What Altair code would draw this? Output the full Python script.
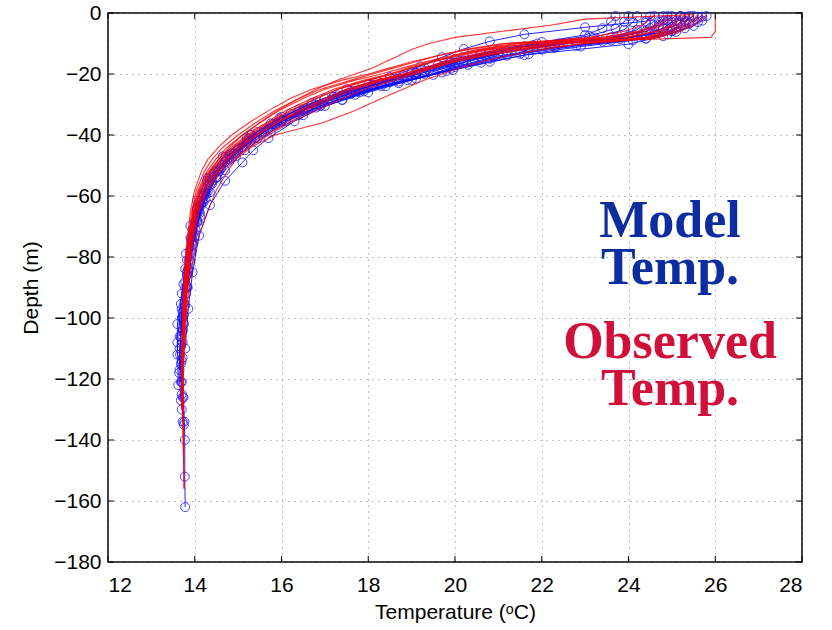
import altair as alt
import pandas as pd

# ---------------- data ----------------
x_ticks = [12, 14, 16, 18, 20, 22, 24, 26, 28]
y_ticks = [-180, -160, -140, -120, -100, -80, -60, -40, -20, 0]

# observed profiles (red): shared depth levels, one temperature list per cast
obs_depth = [-0.5, -2, -4, -6, -8, -9, -10, -12, -14, -16, -18, -20, -22, -25, -28,
             -32, -36, -40, -44, -48, -52, -58, -65, -75, -85, -100, -115, -130, -145, -156]
obs_temps = [
    [26.0, 26.0, 26.0, 26.0, 25.9, 23.6, 22.4, 21.3, 20.5, 19.9, 19.4, 18.9, 18.3, 17.6, 17.1,
     16.5, 15.9, 15.45, 15.05, 14.7, 14.45, 14.2, 14.02, 13.9, 13.82, 13.76, 13.73],
    [25.5, 23.0, 22.2, 21.1, 20.0, 19.7, 19.4, 19.0, 18.7, 18.4, 18.1, 17.7, 17.3, 16.8, 16.4,
     15.9, 15.5, 15.1, 14.8, 14.55, 14.35, 14.15, 14.0, 13.9, 13.82, 13.76, 13.72, 13.72, 13.74, 13.75],
    [25.2, 25.1, 25.0, 24.8, 24.4, 23.8, 23.0, 22.0, 21.2, 20.6, 20.1, 19.7, 19.3, 18.8, 18.3,
     17.7, 16.95, 15.85, 15.3, 14.95, 14.75, 14.5, 14.3, 14.05, 13.9, 13.8, 13.74],
    [25.0, 24.9, 24.7, 24.3, 23.5, 22.4, 21.2, 20.3, 19.6, 19.0, 18.5, 18.0, 17.4, 16.7, 16.2,
     15.7, 15.25, 14.85, 14.55, 14.3, 14.15, 14.0, 13.9, 13.82, 13.76, 13.72, 13.70, 13.70],
    [25.6, 25.5, 25.3, 25.0, 24.5, 23.6, 22.3, 21.1, 20.4, 19.8, 19.3, 18.8, 18.2, 17.5, 17.0,
     16.4, 15.9, 15.4, 15.0, 14.7, 14.45, 14.2, 14.02, 13.9, 13.8, 13.74, 13.71, 13.72, 13.74, 13.76],
    [25.3, 25.2, 25.0, 24.6, 23.9, 22.9, 21.7, 20.7, 20.0, 19.4, 18.9, 18.5, 17.9, 17.2, 16.7,
     16.1, 15.65, 15.2, 14.85, 14.55, 14.32, 14.1, 13.97, 13.86, 13.79, 13.74, 13.71],
    [25.8, 25.7, 25.5, 25.2, 24.7, 24.0, 23.0, 21.6, 20.7, 20.0, 19.5, 19.0, 18.4, 17.7, 17.2,
     16.6, 16.1, 15.6, 15.15, 14.8, 14.55, 14.28, 14.08, 13.95, 13.85, 13.77, 13.73, 13.74],
    [24.9, 24.8, 24.6, 24.2, 23.4, 22.5, 21.4, 20.5, 19.9, 19.3, 18.8, 18.3, 17.7, 17.0, 16.5,
     15.95, 15.5, 15.1, 14.75, 14.48, 14.28, 14.08, 13.95, 13.85, 13.78, 13.73],
    [25.5, 25.4, 25.2, 24.9, 24.4, 23.4, 22.1, 21.0, 20.3, 19.7, 19.3, 18.8, 18.2, 17.5, 17.0,
     16.4, 15.85, 15.45, 15.05, 14.75, 14.5, 14.22, 14.05, 13.93, 13.84, 13.77, 13.73, 13.73],
    [25.1, 25.0, 24.8, 24.4, 23.7, 22.6, 21.5, 20.6, 20.0, 19.5, 19.0, 18.5, 18.0, 17.3, 16.8,
     16.2, 15.7, 15.25, 14.9, 14.6, 14.35, 14.12, 13.98, 13.88, 13.8, 13.74, 13.71, 13.72],
    [25.4, 25.3, 25.1, 24.7, 24.0, 23.0, 21.8, 20.8, 20.1, 19.5, 19.0, 18.6, 18.0, 17.3, 16.8,
     16.25, 15.75, 15.3, 14.92, 14.62, 14.38, 14.14, 13.99, 13.89, 13.81, 13.75, 13.72, 13.73, 13.75],
    [25.7, 25.6, 25.4, 25.1, 24.6, 23.8, 22.6, 21.4, 20.6, 20.0, 19.5, 19.1, 18.6, 17.9, 17.4,
     16.8, 16.2, 15.7, 15.25, 14.9, 14.6, 14.3, 14.1, 13.96, 13.86, 13.78, 13.74],
    [24.6, 24.5, 24.3, 23.9, 23.1, 22.2, 21.1, 20.2, 19.6, 19.1, 18.6, 18.1, 17.6, 16.9, 16.4,
     15.85, 15.4, 15.0, 14.65, 14.4, 14.22, 14.04, 13.93, 13.84, 13.77, 13.72, 13.7, 13.71],
]

# model profiles (blue): each station has its own model levels
mod_depths = [
    [-1.2, -3.5, -6, -8.5, -11, -14, -17, -20.5, -24.5, -29, -34, -40, -47, -55, -64, -74, -86, -99, -113, -126, -134, -140, -152, -162],
    [-1, -3, -5.5, -8, -10.5, -13, -16, -19.5, -23.5, -28, -33, -39, -46, -54, -63, -73, -84, -96, -108, -121, -135],
    [-1, -3, -5, -7.5, -10, -12.5, -15.5, -19, -23, -27, -32, -38, -44, -51, -59, -68, -78, -90, -102, -114, -126],
    [-1, -2.8, -5, -7.2, -9.5, -12, -15, -18, -21.5, -25.5, -30, -35, -41, -48, -56, -65, -75, -86, -98, -110, -117],
    [-1, -2.7, -4.7, -7, -9.3, -11.8, -14.5, -17.5, -21, -25, -29.5, -34.5, -40, -46.5, -54, -62, -71, -81, -92, -102, -112],
    [-1, -2.6, -4.5, -6.7, -9, -11.4, -14, -17, -20.3, -24, -28.5, -33.5, -39, -45, -52, -60, -69, -78, -88, -97, -106],
    [-1, -2.5, -4.3, -6.4, -8.6, -11, -13.5, -16.3, -19.5, -23, -27, -31.5, -36.5, -42, -48, -55, -63, -72, -81, -90, -100],
    [-1.2, -3, -5, -7, -9, -11, -13.5, -16, -19, -22.5, -26.5, -31, -36, -41.5, -47.5, -54, -61, -68.5, -76, -84, -92],
    [-1, -2.4, -4, -6, -8, -10, -12.2, -14.6, -17.2, -20.2, -23.6, -27.4, -31.6, -36.2, -41.2, -46.6, -52.6, -59, -66, -75, -85],
    [-1.1, -3.2, -5.5, -8, -10.5, -13.2, -16.2, -19.6, -23.4, -27.6, -32.4, -38, -44.4, -51.6, -59.6, -68.6, -78.6, -89.6, -101.6, -115, -130],
    [-1, -3, -5.2, -7.6, -10.2, -13.8, -18.7, -22, -26, -30.5, -35.5, -41, -47, -54, -62, -71, -81, -92, -104, -121],
    [-1, -2.6, -4.6, -6.9, -9.4, -12, -15, -18.3, -22, -26, -30.5, -35.5, -41, -45, -49, -55, -63, -73, -85, -97, -110],
    [-1, -2.9, -5.1, -7.5, -10, -12.7, -15.7, -19, -22.7, -26.8, -31.4, -36.6, -42.4, -48.9, -56.2, -64.4, -73.6, -83.9, -95.4, -108, -122],
    [-1.3, -3.4, -5.8, -8.4, -11.2, -14.3, -17.7, -21.5, -25.7, -30.3, -35.4, -41, -47.2, -54, -61.5, -69.8, -78.9, -88.9, -99.9, -112, -125, -134],
    [-1, -2.5, -4.2, -6.2, -8.4, -10.8, -13.4, -16.3, -19.5, -23, -26.8, -31, -35.6, -40.6, -46, -52, -58.5, -65.6, -73.3, -81.6, -90],
    [-1, -2.8, -4.9, -7.3, -10, -13, -16.3, -20, -24, -28.5, -33.5, -39, -45, -51.6, -58.8, -66.7, -75.3, -84.7, -95, -106, -118, -127],
]
mod_temps = [
    [25.6, 25.4, 25.0, 23.8, 21.6, 20.4, 19.6, 18.8, 17.7, 16.8, 16.0, 15.3, 14.65, 14.28, 14.05, 13.92, 13.82, 13.75, 13.72, 13.74, 13.76, 13.77, 13.77, 13.78],
    [24.2, 24.1, 23.9, 23.2, 21.8, 20.8, 19.9, 19.0, 18.0, 17.0, 16.2, 15.45, 14.85, 14.35, 14.1, 13.95, 13.85, 13.78, 13.72, 13.7, 13.75],
    [25.2, 25.0, 24.8, 24.3, 22.6, 21.2, 20.2, 19.3, 18.3, 17.4, 16.5, 15.7, 15.1, 14.6, 14.25, 14.05, 13.92, 13.82, 13.75, 13.7, 13.72],
    [23.7, 23.6, 23.4, 23.0, 22.0, 21.0, 20.0, 19.3, 18.6, 17.6, 16.8, 16.0, 15.4, 14.8, 14.4, 14.1, 13.95, 13.82, 13.72, 13.65, 13.65],
    [24.6, 24.4, 23.0, 21.6, 20.8, 20.2, 19.7, 19.2, 18.5, 17.5, 16.7, 15.95, 15.3, 14.8, 14.35, 14.1, 13.95, 13.82, 13.7, 13.6, 13.6],
    [25.5, 25.3, 25.0, 24.6, 23.6, 22.3, 21.2, 20.3, 19.5, 18.4, 17.4, 16.4, 15.6, 15.0, 14.5, 14.2, 14.0, 13.88, 13.78, 13.7, 13.65],
    [24.9, 24.8, 24.6, 24.2, 23.3, 21.6, 20.6, 19.9, 19.1, 18.3, 17.3, 16.5, 15.8, 15.2, 14.75, 14.4, 14.15, 13.98, 13.86, 13.78, 13.72],
    [25.7, 25.6, 25.3, 24.9, 24.1, 22.9, 21.7, 20.8, 19.8, 18.7, 17.6, 16.6, 15.9, 15.3, 14.85, 14.5, 14.25, 14.07, 13.95, 13.85, 13.8],
    [25.0, 24.9, 24.7, 24.4, 23.7, 22.4, 21.4, 20.6, 19.9, 19.1, 18.1, 17.2, 16.4, 15.75, 15.2, 14.8, 14.45, 14.2, 14.05, 13.92, 13.82],
    [24.5, 24.4, 24.2, 23.6, 22.3, 21.0, 20.0, 19.1, 18.1, 17.2, 16.4, 15.6, 15.0, 14.55, 14.25, 14.05, 13.92, 13.82, 13.74, 13.68, 13.7],
    [25.4, 25.3, 25.1, 24.8, 24.0, 21.6, 19.95, 18.9, 17.8, 16.9, 16.1, 15.45, 14.95, 14.5, 14.2, 14.02, 13.9, 13.8, 13.73, 13.68],
    [25.2, 25.1, 24.9, 24.5, 23.4, 22.0, 20.8, 19.9, 19.0, 18.0, 17.0, 16.3, 15.7, 15.35, 15.1, 14.7, 14.35, 14.1, 13.95, 13.85, 13.78],
    [24.0, 23.9, 23.7, 23.1, 21.9, 20.9, 20.1, 19.4, 18.5, 17.5, 16.6, 15.85, 15.2, 14.7, 14.3, 14.05, 13.9, 13.78, 13.68, 13.6, 13.62],
    [25.3, 25.2, 25.0, 24.4, 22.3, 20.9, 20.0, 19.1, 17.9, 16.9, 16.0, 15.25, 14.7, 14.3, 14.05, 13.9, 13.8, 13.74, 13.7, 13.66, 13.7, 13.72],
    [25.8, 25.7, 25.5, 25.1, 24.4, 22.8, 21.5, 20.6, 19.7, 18.7, 17.7, 16.8, 16.0, 15.4, 14.9, 14.55, 14.3, 14.12, 14.0, 13.9, 13.84],
    [24.8, 24.7, 24.5, 24.0, 22.5, 21.1, 20.2, 19.3, 18.3, 17.4, 16.5, 15.75, 15.15, 14.7, 14.35, 14.12, 13.97, 13.85, 13.76, 13.68, 13.64, 13.68],
]

model_label = ["Model", "Temp."]
observed_label = ["Observed", "Temp."]

# ---------------- tables ----------------
obs_rows = []
for p, temps in enumerate(obs_temps):
    for i, t in enumerate(temps):
        obs_rows.append({"profile": p, "i": i, "depth": obs_depth[i], "temp": t})
obs_df = pd.DataFrame(obs_rows)

mod_rows = []
for p, (ds, ts) in enumerate(zip(mod_depths, mod_temps)):
    for i, (d, t) in enumerate(zip(ds, ts)):
        mod_rows.append({"profile": p, "i": i, "depth": d, "temp": t})
mod_df = pd.DataFrame(mod_rows)

xt_df = pd.DataFrame({"t": x_ticks})
yt_df = pd.DataFrame({"t": y_ticks})

W, H = 694, 549
FONT = "Liberation Sans"

xscale = alt.Scale(domain=[12, 28], nice=False, zero=False)
yscale = alt.Scale(domain=[-180, 0], nice=False, zero=False)

x_enc = alt.X("temp:Q", scale=xscale,
              axis=alt.Axis(values=x_ticks, title="Temperature (ᵒC)", format="d"))
y_enc = alt.Y("depth:Q", scale=yscale,
              axis=alt.Axis(values=y_ticks, title="Depth (m)", format="d"))

mod_line = alt.Chart(mod_df).mark_line(color="#0000FF", strokeWidth=1, opacity=0.85).encode(
    x=x_enc, y=y_enc, detail="profile:N", order="i:Q")
mod_pts = alt.Chart(mod_df).mark_point(shape="circle", filled=False, color="#1515FF",
                                       size=80, strokeWidth=1, opacity=0.8).encode(
    x="temp:Q", y="depth:Q")
obs_line = alt.Chart(obs_df).mark_line(color="#FF0000", strokeWidth=1.1, opacity=0.8).encode(
    x="temp:Q", y="depth:Q", detail="profile:N", order="i:Q")

tick_len = 6
xt_bot = alt.Chart(xt_df).mark_rule(color="black", strokeWidth=1).encode(
    x=alt.X("t:Q", scale=xscale), y=alt.value(H), y2=alt.value(H - tick_len))
xt_top = alt.Chart(xt_df).mark_rule(color="black", strokeWidth=1).encode(
    x=alt.X("t:Q", scale=xscale), y=alt.value(0), y2=alt.value(tick_len))
yt_left = alt.Chart(yt_df).mark_rule(color="black", strokeWidth=1).encode(
    y=alt.Y("t:Q", scale=yscale), x=alt.value(0), x2=alt.value(tick_len))
yt_right = alt.Chart(yt_df).mark_rule(color="black", strokeWidth=1).encode(
    y=alt.Y("t:Q", scale=yscale), x=alt.value(W), x2=alt.value(W - tick_len))

def ann(lines, color, xpx, ypx):
    return alt.Chart(pd.DataFrame({"label": ["\n".join(lines)]})).mark_text(
        font="Liberation Serif", fontWeight="bold", fontSize=52, color=color,
        align="center", baseline="alphabetic", lineBreak="\n", lineHeight=47).encode(
        text="label:N", x=alt.value(xpx), y=alt.value(ypx))

BLUE_TXT = "#0B2D9F"
RED_TXT = "#D0103A"
texts = [
    ann(model_label, BLUE_TXT, 562, 224),
    ann(observed_label, RED_TXT, 562, 345),
]

chart = alt.layer(mod_line, mod_pts, obs_line, xt_bot, xt_top, yt_left, yt_right, *texts).properties(
    width=W, height=H,
    autosize=alt.AutoSizeParams(type="none"),
    padding={"left": 108, "top": 13, "right": 30, "bottom": 68},
    background="white",
).configure_view(
    stroke="black", strokeWidth=1.5
).configure_axis(
    domain=False, ticks=False,
    grid=True, gridColor="#777777", gridDash=[1, 5], gridWidth=1, gridOpacity=0.9,
    labelFont=FONT, labelFontSize=21, labelColor="black",
    titleFont=FONT, titleFontSize=21, titleColor="black", titleFontWeight="normal",
).configure_axisX(
    labelPadding=12, titlePadding=6
).configure_axisY(
    labelPadding=7, titlePadding=12
)

chart.save("out.html", embed_options={"renderer": "svg", "actions": False})
